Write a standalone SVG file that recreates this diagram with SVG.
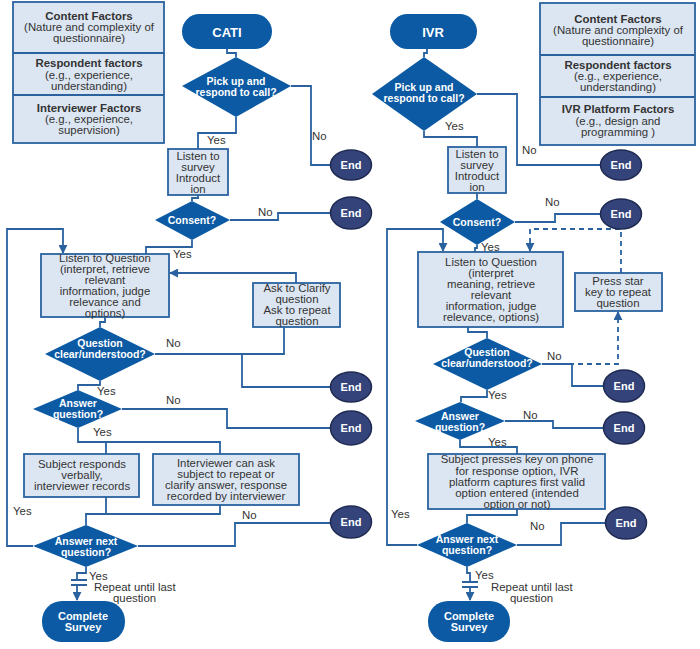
<svg xmlns="http://www.w3.org/2000/svg" width="700" height="649" viewBox="0 0 700 649">
<defs>
<marker id="arr" viewBox="0 0 10 10" refX="9" refY="5" markerWidth="9" markerHeight="9" markerUnits="userSpaceOnUse" orient="auto">
<path d="M0,0 L10,5 L0,10 z" fill="#2a62a0"/>
</marker>
<style>
text{font-family:"Liberation Sans",Arial,sans-serif;font-size:11.4px;fill:#333;}
.c{text-anchor:middle;}
.b{font-weight:bold;}
.w{fill:#fff;font-weight:bold;text-anchor:middle;font-size:10.5px;}
.box{fill:#dce6f2;stroke:#2a62a0;stroke-width:1.8;}
.dia{fill:#0b5aa3;}
.term{fill:#0b5aa3;}
.end{fill:#34447a;stroke:#1f2a52;stroke-width:1.5;}
.ln{fill:none;stroke:#2a62a0;stroke-width:1.8;}
.dash{fill:none;stroke:#2a62a0;stroke-width:1.8;stroke-dasharray:5,4;}
</style>
</defs>
<rect width="700" height="649" fill="#fff"/>

<g id="connectors">
<!-- CATI -->
<path class="ln" d="M227,49 V53 H236 V57"/>
<path class="ln" d="M236,117 V133 H198 V149"/>
<path class="ln" d="M291,86 H311 V165 H330"/>
<path class="ln" d="M198,195 V198 H192 V201"/>
<path class="ln" d="M230,220 H278 V213 H330"/>
<path class="ln" d="M192,240 V247 H146 V254"/>
<path class="ln" d="M33,546 H7 V229 H63 V253" marker-end="url(#arr)"/>
<path class="ln" d="M296,283 V273 H170" marker-end="url(#arr)"/>
<path class="ln" d="M105,317 V322 H100 V327"/>
<path class="ln" d="M155,354 H284 V327"/>
<path class="ln" d="M242,354 V387 H330"/>
<path class="ln" d="M100,381 V385 H78 V390"/>
<path class="ln" d="M122,409 H227 V428 H330"/>
<path class="ln" d="M78,428 V442 H220 V454 M106,442 V454"/>
<path class="ln" d="M106,497 V514 M220,505 V514 H86 V525"/>
<path class="ln" d="M138,546 H235 V523 H330"/>
<path class="ln" d="M86,567 V573 H77 V580 M71,580 H87 M71,585 H87"/>
<path class="ln" d="M77,585 V600" marker-end="url(#arr)"/>
<!-- IVR -->
<path class="ln" d="M427,49 V53 H424 V57"/>
<path class="ln" d="M424,131 V137 H477 V147"/>
<path class="ln" d="M477,94 H517 V165 H600"/>
<path class="ln" d="M477,193 V199"/>
<path class="ln" d="M515,222 H555 V214 H600"/>
<path class="ln" d="M477,245 V248 H475 V252"/>
<path class="ln" d="M417,545 H387 V229 H443 V251" marker-end="url(#arr)"/>
<path class="dash" d="M621,273 V229 H530 V251" marker-end="url(#arr)"/>
<path class="dash" d="M542,364 H618 V312" marker-end="url(#arr)"/>
<path class="ln" d="M468,327 V332 H487 V338"/>
<path class="ln" d="M542,364 H572 V386 H603"/>
<path class="ln" d="M487,390 V397 H461 V402"/>
<path class="ln" d="M505,421 H553 V428 H603"/>
<path class="ln" d="M460,440 V447 H517 V454"/>
<path class="ln" d="M517,509 V515 H467 V523"/>
<path class="ln" d="M517,545 H561 V523 H605"/>
<path class="ln" d="M467,567 V573 H470 V582 M462,582 H478 M462,587 H478"/>
<path class="ln" d="M470,587 V600" marker-end="url(#arr)"/>
</g>

<g id="labels">
<text x="207" y="144">Yes</text>
<text x="312" y="140">No</text>
<text x="258" y="216">No</text>
<text x="173" y="258">Yes</text>
<text x="166" y="347">No</text>
<text x="97" y="395">Yes</text>
<text x="166" y="404">No</text>
<text x="93" y="436">Yes</text>
<text x="13" y="515">Yes</text>
<text x="242" y="519">No</text>
<text x="89" y="580">Yes</text>
<text x="94" y="591">Repeat until last</text>
<text x="113" y="602">question</text>

<text x="445" y="130">Yes</text>
<text x="522" y="154">No</text>
<text x="545" y="206">No</text>
<text x="481" y="251">Yes</text>
<text x="547" y="360">No</text>
<text x="488" y="399">Yes</text>
<text x="523" y="419">No</text>
<text x="488" y="446">Yes</text>
<text x="391" y="518">Yes</text>
<text x="530" y="530">No</text>
<text x="475" y="579">Yes</text>
<text x="491" y="591">Repeat until last</text>
<text x="510" y="602">question</text>
</g>

<g id="cati-factors">
<rect class="box" x="13" y="2" width="151" height="141"/>
<line class="ln" x1="13" y1="53" x2="164" y2="53"/>
<line class="ln" x1="13" y1="95" x2="164" y2="95"/>
<text class="c b" x="89" y="20">Content Factors</text>
<text class="c" x="89" y="31">(Nature and complexity of</text>
<text class="c" x="89" y="42">questionnaire)</text>
<text class="c b" x="89" y="67">Respondent factors</text>
<text class="c" x="89" y="79">(e.g., experience,</text>
<text class="c" x="89" y="90">understanding)</text>
<text class="c b" x="89" y="112">Interviewer Factors</text>
<text class="c" x="89" y="123">(e.g., experience,</text>
<text class="c" x="89" y="134">supervision)</text>
</g>

<g id="cati">
<rect class="term" x="182" y="14" width="90" height="35" rx="17.5"/>
<text class="w" x="227" y="37" style="font-size:13px">CATI</text>
</g>
<g id="cati-pickup">
<polygon class="dia" points="236,57 291,86 236,117 182,86"/>
<text class="w" x="236" y="85">Pick up and</text>
<text class="w" x="236" y="96">respond to call?</text>
</g>
<g id="cati-end1"><ellipse class="end" cx="351" cy="165" rx="20.5" ry="15"/><text class="w" x="351" y="169" style="font-size:11px">End</text></g>
<g id="cati-intro">
<rect class="box" x="168" y="149" width="60" height="46"/>
<text class="c" x="198" y="160">Listen to</text>
<text class="c" x="198" y="171">survey</text>
<text class="c" x="198" y="182">Introduct</text>
<text class="c" x="198" y="193">ion</text>
</g>
<g id="cati-consent">
<polygon class="dia" points="192,201 230,220 192,240 155,220"/>
<text class="w" x="192" y="224">Consent?</text>
</g>
<g id="cati-end2"><ellipse class="end" cx="351" cy="213" rx="20.5" ry="16"/><text class="w" x="351" y="217" style="font-size:11px">End</text></g>
<g id="cati-listen">
<rect class="box" x="41" y="254" width="128" height="63"/>
<text class="c" x="105" y="262">Listen to Question</text>
<text class="c" x="105" y="273">(interpret, retrieve</text>
<text class="c" x="105" y="284">relevant</text>
<text class="c" x="105" y="295">information, judge</text>
<text class="c" x="105" y="306">relevance and</text>
<text class="c" x="105" y="317">options)</text>
</g>
<g id="cati-clarify">
<rect class="box" x="253" y="283" width="87" height="44"/>
<text class="c" x="297" y="292">Ask to Clarify</text>
<text class="c" x="297" y="303">question</text>
<text class="c" x="297" y="314">Ask to repeat</text>
<text class="c" x="297" y="325">question</text>
</g>
<g id="cati-clear">
<polygon class="dia" points="100,327 155,354 100,381 45,354"/>
<text class="w" x="100" y="347">Question</text>
<text class="w" x="100" y="358">clear/understood?</text>
</g>
<g id="cati-end3"><ellipse class="end" cx="351" cy="387" rx="20.5" ry="15"/><text class="w" x="351" y="391" style="font-size:11px">End</text></g>
<g id="cati-answer">
<polygon class="dia" points="78,390 122,409 78,428 33,409"/>
<text class="w" x="78" y="407">Answer</text>
<text class="w" x="78" y="418">question?</text>
</g>
<g id="cati-end4"><ellipse class="end" cx="351" cy="428" rx="20.5" ry="17"/><text class="w" x="351" y="432" style="font-size:11px">End</text></g>
<g id="cati-verbal">
<rect class="box" x="24" y="454" width="115" height="43"/>
<text class="c" x="82" y="468">Subject responds</text>
<text class="c" x="82" y="479">verbally,</text>
<text class="c" x="82" y="490">interviewer records</text>
</g>
<g id="cati-interviewer">
<rect class="box" x="153" y="454" width="146" height="51"/>
<text class="c" x="226" y="467">Interviewer can ask</text>
<text class="c" x="226" y="478">subject to repeat or</text>
<text class="c" x="226" y="489">clarify answer, response</text>
<text class="c" x="226" y="500">recorded by interviewer</text>
</g>
<g id="cati-next">
<polygon class="dia" points="86,525 138,546 86,567 33,546"/>
<text class="w" x="86" y="545">Answer next</text>
<text class="w" x="86" y="556">question?</text>
</g>
<g id="cati-end5"><ellipse class="end" cx="351" cy="522" rx="20.5" ry="16"/><text class="w" x="351" y="526" style="font-size:11px">End</text></g>
<g id="cati-complete">
<rect class="term" x="42" y="601" width="83" height="41" rx="20"/>
<text class="w" x="83" y="620" style="font-size:11px">Complete</text>
<text class="w" x="83" y="631" style="font-size:11px">Survey</text>
</g>

<g id="ivr-factors">
<rect class="box" x="540" y="3" width="155" height="142"/>
<line class="ln" x1="540" y1="55" x2="695" y2="55"/>
<line class="ln" x1="540" y1="97" x2="695" y2="97"/>
<text class="c b" x="618" y="23">Content Factors</text>
<text class="c" x="618" y="34">(Nature and complexity of</text>
<text class="c" x="618" y="45">questionnaire)</text>
<text class="c b" x="618" y="69">Respondent factors</text>
<text class="c" x="618" y="80">(e.g., experience,</text>
<text class="c" x="618" y="91">understanding)</text>
<text class="c b" x="618" y="113">IVR Platform Factors</text>
<text class="c" x="618" y="125">(e.g., design and</text>
<text class="c" x="618" y="136">programming )</text>
</g>
<g id="ivr">
<rect class="term" x="390" y="14" width="87" height="35" rx="17.5"/>
<text class="w" x="433" y="37" style="font-size:13px">IVR</text>
</g>
<g id="ivr-pickup">
<polygon class="dia" points="424,57 477,94 424,131 372,94"/>
<text class="w" x="424" y="91">Pick up and</text>
<text class="w" x="424" y="102">respond to call?</text>
</g>
<g id="ivr-end1"><ellipse class="end" cx="621" cy="165" rx="20.5" ry="15"/><text class="w" x="621" y="169" style="font-size:11px">End</text></g>
<g id="ivr-intro">
<rect class="box" x="448" y="147" width="58" height="46"/>
<text class="c" x="477" y="158">Listen to</text>
<text class="c" x="477" y="169">survey</text>
<text class="c" x="477" y="180">Introduct</text>
<text class="c" x="477" y="191">ion</text>
</g>
<g id="ivr-consent">
<polygon class="dia" points="477,199 515,222 477,245 440,222"/>
<text class="w" x="477" y="226">Consent?</text>
</g>
<g id="ivr-end2"><ellipse class="end" cx="621" cy="214" rx="20.5" ry="15"/><text class="w" x="621" y="218" style="font-size:11px">End</text></g>
<g id="ivr-listen">
<rect class="box" x="418" y="252" width="145" height="75"/>
<text class="c" x="491" y="266">Listen to Question</text>
<text class="c" x="491" y="277">(interpret</text>
<text class="c" x="491" y="288">meaning, retrieve</text>
<text class="c" x="491" y="299">relevant</text>
<text class="c" x="491" y="310">information, judge</text>
<text class="c" x="491" y="321">relevance, options)</text>
</g>
<g id="ivr-star">
<rect class="box" x="575" y="273" width="87" height="38"/>
<text class="c" x="618" y="285">Press star</text>
<text class="c" x="618" y="296">key to repeat</text>
<text class="c" x="618" y="307">question</text>
</g>
<g id="ivr-clear">
<polygon class="dia" points="487,338 542,364 487,390 433,364"/>
<text class="w" x="487" y="356">Question</text>
<text class="w" x="487" y="367">clear/understood?</text>
</g>
<g id="ivr-end3"><ellipse class="end" cx="624" cy="386" rx="20.5" ry="16"/><text class="w" x="624" y="390" style="font-size:11px">End</text></g>
<g id="ivr-answer">
<polygon class="dia" points="460,402 505,421 460,440 415,421"/>
<text class="w" x="460" y="420">Answer</text>
<text class="w" x="460" y="431">question?</text>
</g>
<g id="ivr-end4"><ellipse class="end" cx="624" cy="428" rx="20.5" ry="16"/><text class="w" x="624" y="432" style="font-size:11px">End</text></g>
<g id="ivr-press">
<rect class="box" x="428" y="454" width="177" height="55"/>
<text class="c" x="517" y="463">Subject presses key on phone</text>
<text class="c" x="517" y="475">for response option, IVR</text>
<text class="c" x="517" y="486">platform captures first valid</text>
<text class="c" x="517" y="497">option entered (intended</text>
<text class="c" x="517" y="508">option or not)</text>
</g>
<g id="ivr-next">
<polygon class="dia" points="467,523 517,545 467,567 417,545"/>
<text class="w" x="467" y="543">Answer next</text>
<text class="w" x="467" y="554">question?</text>
</g>
<g id="ivr-end5"><ellipse class="end" cx="626" cy="523" rx="20.5" ry="16"/><text class="w" x="626" y="527" style="font-size:11px">End</text></g>
<g id="ivr-complete">
<rect class="term" x="428" y="601" width="82" height="41" rx="20"/>
<text class="w" x="469" y="620" style="font-size:11px">Complete</text>
<text class="w" x="469" y="631" style="font-size:11px">Survey</text>
</g>
</svg>
